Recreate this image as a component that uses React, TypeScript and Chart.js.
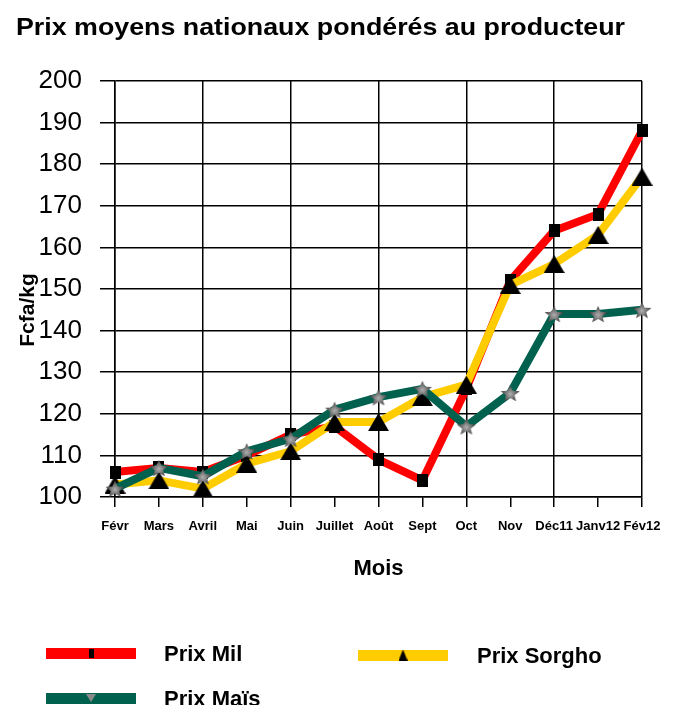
import React, { useEffect, useRef } from 'react';
import { Chart, registerables } from 'chart.js';
Chart.register(...registerables);

const months = ['Févr', 'Mars', 'Avril', 'Mai', 'Juin', 'Juillet', 'Août', 'Sept', 'Oct', 'Nov', 'Déc11', 'Janv12', 'Fév12'];
const prixMil = [106, 107, 106, 110, 115, 117, 109, 104, 126, 152, 164, 168, 188];
const prixSorgho = [103, 104, 102, 108, 111, 118, 118, 124, 127, 151, 156, 163, 177];
const prixMais = [102, 107, 105, 111, 114, 121, 124, 126, 117, 125, 144, 144, 145];
const yTicks = [100, 110, 120, 130, 140, 150, 160, 170, 180, 190, 200];

const TITLE = 'Prix moyens nationaux pondérés au producteur';
const Y_TITLE = 'Fcfa/kg';
const X_TITLE = 'Mois';
const labelMil = 'Prix Mil';
const labelSorgho = 'Prix Sorgho';
const labelMais = 'Prix Maïs';

const RED = '#FF0000';
const YELLOW = '#FFCC00';
const GREEN = '#00614F';
const SANS = '"Liberation Sans", Arial, sans-serif';

function makeCanvas(w: number, h: number) {
  const c = document.createElement('canvas');
  c.width = w;
  c.height = h;
  return c;
}

function squareImg(w: number, h: number) {
  const c = makeCanvas(w, h);
  const g = c.getContext('2d')!;
  g.fillStyle = '#000';
  g.fillRect(0, 0, w, h);
  return c;
}

function triangleImg(w: number, h: number) {
  const c = makeCanvas(w, h);
  const g = c.getContext('2d')!;
  g.fillStyle = '#000';
  g.beginPath();
  g.moveTo(w / 2, 0);
  g.lineTo(w, h);
  g.lineTo(0, h);
  g.closePath();
  g.fill();
  return c;
}

function starImg(w: number, h: number) {
  const c = makeCanvas(w, h);
  const g = c.getContext('2d')!;
  const cx = w / 2, cy = h / 2 + 1;
  const R = Math.min(w, h) / 2;
  const r = R * 0.45;
  const grad = g.createRadialGradient(cx, cy, 0, cx, cy, R);
  grad.addColorStop(0, '#b0b0b0');
  grad.addColorStop(1, '#404040');
  g.fillStyle = grad;
  g.beginPath();
  for (let i = 0; i < 10; i++) {
    const a = -Math.PI / 2 + (i * Math.PI) / 5;
    const rr = i % 2 === 0 ? R : r;
    const px = cx + Math.cos(a) * rr * (w / Math.min(w, h));
    const py = cy + Math.sin(a) * rr;
    if (i === 0) g.moveTo(px, py);
    else g.lineTo(px, py);
  }
  g.closePath();
  g.fill();
  return c;
}

function downTriImg(w: number, h: number) {
  const c = makeCanvas(w, h);
  const g = c.getContext('2d')!;
  g.fillStyle = '#8a8a8a';
  g.beginPath();
  g.moveTo(0, 0);
  g.lineTo(w, 0);
  g.lineTo(w / 2, h);
  g.closePath();
  g.fill();
  return c;
}

function fitText(ctx: CanvasRenderingContext2D, text: string, x: number, y: number, font: string, width: number) {
  ctx.save();
  ctx.font = font;
  const m = ctx.measureText(text).width;
  ctx.translate(x, y);
  ctx.scale(width / m, 1);
  ctx.fillText(text, 0, 0);
  ctx.restore();
}

export default function App() {
  const ref = useRef<HTMLCanvasElement | null>(null);

  useEffect(() => {
    if (!ref.current) return;
    const sq = squareImg(11, 13);
    const tri = triangleImg(21, 18);
    const star = starImg(20, 18);
    const legSq = squareImg(5, 9);
    const legTri = triangleImg(9, 11);
    const legStar = downTriImg(10, 8);

    const overlay = {
      id: 'overlay',
      afterDraw(chart: any) {
        const ctx: CanvasRenderingContext2D = chart.ctx;
        ctx.save();
        ctx.fillStyle = '#000';
        ctx.textBaseline = 'alphabetic';
        ctx.textAlign = 'left';
        // title
        fitText(ctx, TITLE, 16, 35, `bold 24px ${SANS}`, 609);
        // x title
        const ca = chart.chartArea;
        ctx.font = `bold 22px ${SANS}`;
        ctx.textAlign = 'center';
        ctx.fillText(X_TITLE, (ca.left + ca.right) / 2, 575);
        // y title
        ctx.save();
        ctx.translate(34, 310);
        ctx.rotate(-Math.PI / 2);
        ctx.font = `bold 21px ${SANS}`;
        ctx.textAlign = 'center';
        ctx.fillText(Y_TITLE, 0, 0);
        ctx.restore();
        // legend
        const items = [
          { label: labelMil, color: RED, img: legSq, x: 46, y: 653, tx: 164 },
          { label: labelSorgho, color: YELLOW, img: legTri, x: 358, y: 655, tx: 477 },
          { label: labelMais, color: GREEN, img: legStar, x: 46, y: 698, tx: 164 },
        ];
        for (const it of items) {
          ctx.fillStyle = it.color;
          ctx.fillRect(it.x, it.y - 5, 90, 11);
          ctx.drawImage(it.img, it.x + 45 - it.img.width / 2, it.y - it.img.height / 2);
          ctx.fillStyle = '#000';
          ctx.font = `bold 22px ${SANS}`;
          ctx.textAlign = 'left';
          ctx.fillText(it.label, it.tx, it.y + 8);
        }
        ctx.restore();
      },
    };

    const chart = new Chart(ref.current, {
      type: 'line',
      data: {
        labels: months,
        datasets: [
          {
            label: labelMil,
            data: prixMil,
            borderColor: RED,
            backgroundColor: RED,
            borderWidth: 8,
            pointStyle: sq as any,
            pointRadius: 6,
            order: 3,
          },
          {
            label: labelSorgho,
            data: prixSorgho,
            borderColor: YELLOW,
            backgroundColor: YELLOW,
            borderWidth: 8,
            pointStyle: tri as any,
            pointRadius: 6,
            order: 2,
          },
          {
            label: labelMais,
            data: prixMais,
            borderColor: GREEN,
            backgroundColor: GREEN,
            borderWidth: 8,
            pointStyle: star as any,
            pointRadius: 6,
            order: 1,
          },
        ],
      },
      options: {
        animation: false,
        responsive: false,
        maintainAspectRatio: false,
        layout: { padding: { left: 0, right: 36, top: 81, bottom: 168 } },
        plugins: {
          legend: { display: false },
          title: { display: false },
          tooltip: { enabled: false },
        },
        elements: { line: { tension: 0, borderJoinStyle: 'round' } },
        scales: {
          x: {
            type: 'category',
            offset: false,
            afterFit: (s: any) => { s.height = 40; },
            grid: {
              color: (c: any) => (c.index % 2 === 0 ? '#000' : 'rgba(0,0,0,0)'),
              tickColor: '#000',
              lineWidth: 1.5,
              tickLength: 10,
              drawTicks: true,
            },
            border: { color: '#000', width: 1.5 },
            ticks: {
              color: '#000',
              font: { family: SANS, size: 13, weight: 'bold' },
              maxRotation: 0,
              minRotation: 0,
              autoSkip: false,
              padding: 12,
            },
          },
          y: {
            min: 100,
            max: 200,
            afterFit: (s: any) => { s.width = 115; },
            afterBuildTicks: (s: any) => { s.ticks = yTicks.map((v) => ({ value: v })); },
            grid: { color: '#000', lineWidth: 1.5, tickLength: 15, drawTicks: true },
            border: { color: '#000', width: 1.5 },
            ticks: {
              color: '#000',
              font: { family: SANS, size: 26 },
              padding: 18,
            },
          },
        },
      },
      plugins: [overlay],
    } as any);

    return () => chart.destroy();
  }, []);

  return (
    <div style={{ position: 'absolute', left: 0, top: 0, width: 678, height: 705, background: '#fff' }}>
      <canvas ref={ref} width={678} height={705} style={{ display: 'block', width: 678, height: 705 }} />
    </div>
  );
}
